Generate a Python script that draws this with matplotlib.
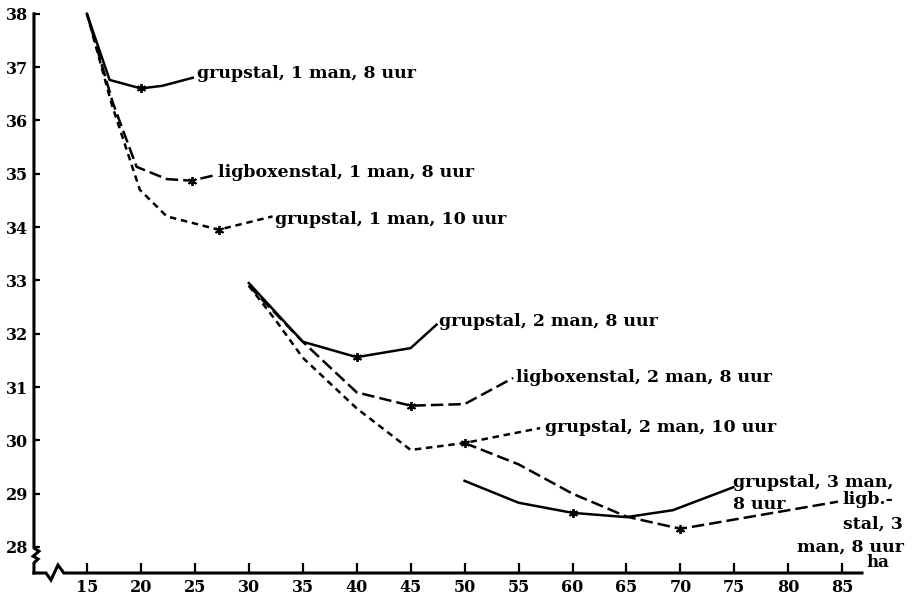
import matplotlib
matplotlib.use('Agg')
import matplotlib.pyplot as plt

plt.rcParams['font.family'] = ['DejaVu Serif']

# x = ha, y = cost level; one list pair per curve, *_mk = index of the marked point
g1_8_x = [15, 17.1, 20, 22, 24.8]
g1_8_y = [38, 36.76, 36.6, 36.65, 36.8]
g1_8_mk = 2

l1_8_x = [15, 17.4, 19.6, 22.4, 24.7, 27]
l1_8_y = [38, 36.33, 35.13, 34.9, 34.87, 34.98]
l1_8_mk = 4

g1_10_x = [15, 17.3, 19.9, 22.4, 25.5, 27.2, 32.2]
g1_10_y = [38, 36.3, 34.7, 34.2, 34.04, 33.95, 34.2]
g1_10_mk = 5

g2_8_x = [30, 35, 40, 45, 47.4]
g2_8_y = [32.95, 31.85, 31.56, 31.73, 32.17]
g2_8_mk = 2

l2_8_x = [30, 35, 40, 45, 50, 54.5]
l2_8_y = [32.9, 31.85, 30.9, 30.65, 30.68, 31.17]
l2_8_mk = 3

g2_10_x = [30, 32.5, 35, 40, 45, 50, 57]
g2_10_y = [32.9, 32.25, 31.55, 30.6, 29.82, 29.95, 30.23]
g2_10_mk = 5

g3_8_x = [50, 55, 60, 65, 69.3, 74.9]
g3_8_y = [29.24, 28.83, 28.64, 28.56, 28.69, 29.12]
g3_8_mk = 2

l3_8_x = [50, 55, 60, 65, 70, 84.6]
l3_8_y = [29.95, 29.55, 29.0, 28.57, 28.34, 28.85]
l3_8_mk = 4

x_ticks = list(range(15, 90, 5))
y_ticks = list(range(28, 39))

SOLID = '-'
LONG = (0, (5, 2))
SHORT = (0, (2.6, 1.9))

# label lines: (text, dx pt, dy pt, ha) relative to the curve's end point
curves = [
	(g1_8_x, g1_8_y, g1_8_mk, SOLID, [("grupstal, 1 man, 8 uur", 3, 3, 'left')]),
	(l1_8_x, l1_8_y, l1_8_mk, LONG, [("ligboxenstal, 1 man, 8 uur", 1, 1.5, 'left')]),
	(g1_10_x, g1_10_y, g1_10_mk, SHORT, [("grupstal, 1 man, 10 uur", 1.5, -2, 'left')]),
	(g2_8_x, g2_8_y, g2_8_mk, SOLID, [("grupstal, 2 man, 8 uur", 1.5, 2, 'left')]),
	(l2_8_x, l2_8_y, l2_8_mk, LONG, [("ligboxenstal, 2 man, 8 uur", 2, 0, 'left')]),
	(g2_10_x, g2_10_y, g2_10_mk, SHORT, [("grupstal, 2 man, 10 uur", 3.5, 0.5, 'left')]),
	(g3_8_x, g3_8_y, g3_8_mk, SOLID, [("grupstal, 3 man,", 0, 3.6, 'left'),
		("8 uur", 0, -12.2, 'left')]),
	(l3_8_x, l3_8_y, l3_8_mk, LONG, [("ligb.-", 3, 1.5, 'left'),
		("stal, 3", 46.8, -16.5, 'right'), ("man, 8 uur", 47.5, -32.4, 'right')]),
]

fig = plt.figure(figsize=(9.18, 6.0), dpi=100)
ax = fig.add_axes([0.037, 0.045, 0.902, 0.932])
ax.set_xlim(10.09, 86.83)
ax.set_ylim(27.512, 38.0)

for xs, ys, mk, ls, lines in curves:
	ax.plot(xs, ys, color='black', lw=1.8, linestyle=ls, clip_on=False,
		marker=(6, 2, 0), markevery=[mk], markersize=6.5, mew=1.3)
	for text, dx, dy, ha in lines:
		ax.annotate(text, xy=(xs[-1], ys[-1]), xytext=(dx, dy), textcoords='offset points',
			ha=ha, va='center', fontsize=12.5, fontweight='bold')

for s in ax.spines.values():
	s.set_visible(False)

# axes drawn by hand so the breaks can sit in them
tr = ax.transAxes
ax.plot([0, 0, 0.006, -0.001, 0.005, 0, 0],
	[1, 0.0447, 0.039, 0.030, 0.025, 0.018, 0],
	color='black', lw=2.2, transform=tr, clip_on=False, solid_joinstyle='miter')
ax.plot([0, 0.0145, 0.0205, 0.029, 0.036, 1],
	[0, 0, -0.0125, 0.0143, 0, 0],
	color='black', lw=2.2, transform=tr, clip_on=False, solid_joinstyle='miter')

ax.set_xticks(x_ticks)
ax.set_yticks(y_ticks)
ax.tick_params(axis='x', direction='in', length=7, width=1.6, pad=4, labelsize=11.5)
ax.tick_params(axis='y', direction='in', length=4.5, width=1.6, pad=4, labelsize=11.5)
for t in ax.get_xticklabels() + ax.get_yticklabels():
	t.set_fontweight('bold')

ax.text(1.005, 0.018, "ha", transform=tr, ha='left', va='center', fontsize=12,
	fontweight='bold')

fig.savefig('out.png', dpi=100)
